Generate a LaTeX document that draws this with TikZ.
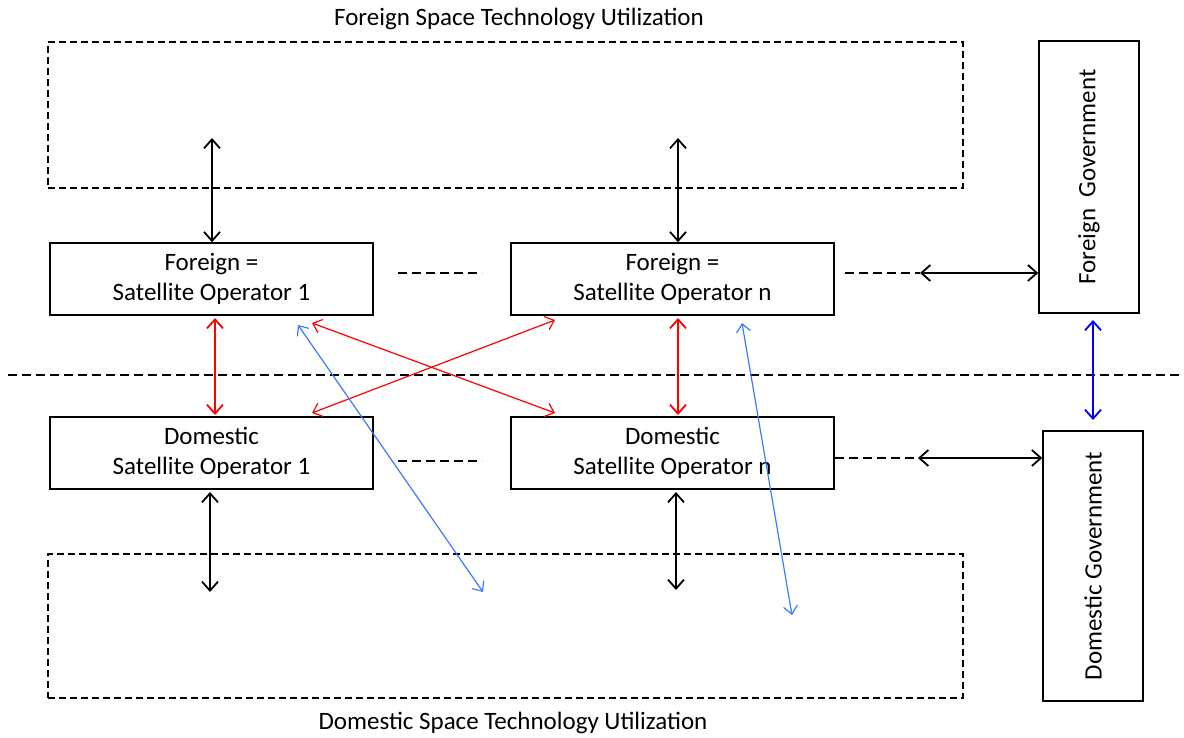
\documentclass[tikz,border=0pt]{standalone}
\usepackage{fontspec}
\setmainfont{Carlito}
\usetikzlibrary{arrows.meta}
\definecolor{lblue}{HTML}{3B7BFF}
\begin{document}
\begin{tikzpicture}[x=1pt,y=-1pt,
  opbox/.style={draw, line width=1.5pt, minimum width=323pt, minimum height=72pt, align=center, font=\fontsize{25}{30}\selectfont, inner sep=0pt},
  govbox/.style={draw, line width=1.5pt, minimum width=100pt, inner sep=0pt, font=\fontsize{25}{30}\selectfont},
  utilbox/.style={draw, dashed, line width=1.3pt, dash pattern=on 7pt off 4pt, minimum width=915pt, inner sep=0pt},
  title/.style={font=\fontsize{25}{30}\selectfont, inner sep=0pt},
  dbl/.style={{Straight Barb[length=9pt,width=16pt]}-{Straight Barb[length=9pt,width=16pt]}, line width=1.8pt},
  thinarr/.style={{Straight Barb[length=8pt,width=14pt]}-{Straight Barb[length=8pt,width=14pt]}, line width=1.2pt},
  dsh/.style={dashed, line width=1.6pt, dash pattern=on 9pt off 5pt}]
\useasboundingbox (0,0) rectangle (1184,738);
% utilization regions
\node[utilbox, minimum height=146pt] (futil) at (505.5,115) {};
\node[utilbox, minimum height=144pt] (dutil) at (505.5,626) {};
\node[title] (ftitle) at (519,19) {Foreign Space Technology Utilization};
\node[title] (dtitle) at (513,723) {Domestic Space Technology Utilization};
% operators
\node[opbox] (f1) at (211.5,279) {Foreign =\\Satellite Operator 1};
\node[opbox] (fn) at (672.5,279) {Foreign =\\Satellite Operator n};
\node[opbox] (d1) at (211.5,453) {Domestic\\Satellite Operator 1};
\node[opbox] (dn) at (672.5,453) {Domestic\\Satellite Operator n};
% governments
\node[govbox, minimum height=272pt] (fgov) at (1089,177) {\rotatebox{90}{Foreign\ \ Government}};
\node[govbox, minimum height=270pt] (dgov) at (1093,566) {\rotatebox{90}{Domestic Government}};
% border line
\coordinate (bl) at (8,375);
\coordinate (br) at (1184,375);
\draw[dsh] (bl) -- (br);
% black vertical arrows
\coordinate (ft1) at (212,138);
\coordinate (ftn) at (678,138);
\coordinate (db1) at (210,592);
\coordinate (dbn) at (676,590);
\coordinate (db1t) at (210,492);
\coordinate (dbnt) at (676,492);
\draw[dbl] (ft1) -- (f1.north -| ft1);
\draw[dbl] (ftn) -- (fn.north -| ftn);
\draw[dbl] (db1t) -- (db1);
\draw[dbl] (dbnt) -- (dbn);
% dashes between operators
\coordinate (fa) at (398,273); \coordinate (fb) at (482,273);
\coordinate (da) at (398,461); \coordinate (db) at (482,461);
\draw[dsh] (fa) -- (fb);
\draw[dsh] (da) -- (db);
% to governments
\coordinate (fg1) at (845,273); \coordinate (fg2) at (920,273);
\coordinate (dg1) at (835,458); \coordinate (dg2) at (918,458);
\draw[dsh, line width=1.3pt] (fg1) -- (fg2);
\draw[dbl] (fg2) -- (fgov.west |- fg2);
\draw[dsh, line width=1.3pt] (dg1) -- (dg2);
\draw[dbl] (dg2) -- (dgov.west |- dg2);
% red arrows
\coordinate (r1a) at (215,318); \coordinate (r1b) at (215,415);
\coordinate (rna) at (678,318); \coordinate (rnb) at (678,415);
\draw[dbl, red] (r1a) -- (r1b);
\draw[dbl, red] (rna) -- (rnb);
\coordinate (xa) at (312,323); \coordinate (xb) at (555,413);
\coordinate (xc) at (555,320); \coordinate (xd) at (312,413);
\draw[thinarr, red] (xa) -- (xb);
\draw[thinarr, red] (xc) -- (xd);
% blue arrows
\coordinate (ba) at (298,325); \coordinate (bb) at (483,592);
\coordinate (bc) at (742,323); \coordinate (bd) at (792,615);
\draw[thinarr, lblue] (ba) -- (bb);
\draw[thinarr, lblue] (bc) -- (bd);
\coordinate (ga) at (1093,320); \coordinate (gb) at (1093,420);
\draw[dbl, blue] (ga) -- (gb);
\end{tikzpicture}
\end{document}
